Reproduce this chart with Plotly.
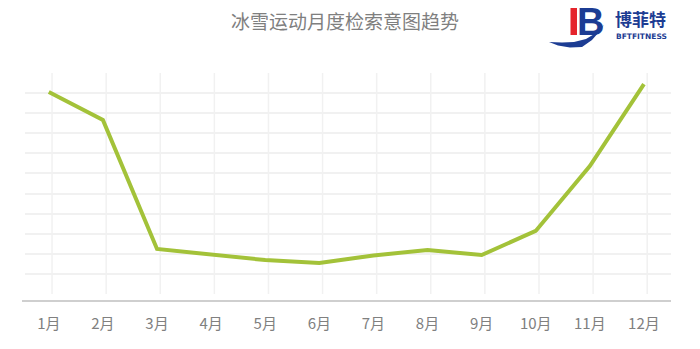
import plotly.graph_objects as go

# Monthly search-intent index for winter sports
months = ["1月", "2月", "3月", "4月", "5月", "6月", "7月", "8月", "9月", "10月", "11月", "12月"]
intent = [100.5, 86.6, 22.4, 19.7, 16.9, 15.4, 19.2, 21.9, 19.4, 31.4, 63.7, 104.5]
grid_values = [10, 20, 30, 40, 50, 60, 70, 80, 90, 100, 110]

W, H = 700, 349
L, R, T, B = 25, 29, 73, 55
PW, PH = W - L - R, H - T - B


def px(x):
    return (x - L) / PW


def py(y):
    return (H - B - y) / PH


def path(points):
    return "M " + " L ".join(f"{px(x):.5f},{py(y):.5f}" for x, y in points) + " Z"


fig = go.Figure()
fig.add_trace(go.Scatter(
    x=months, y=intent, mode="lines",
    line=dict(color="#a3c239", width=4),
    hoverinfo="skip", showlegend=False,
))

shapes = []
# vertical grid lines, slightly right of each category
for i in range(len(months)):
    shapes.append(dict(type="line", xref="x", yref="paper",
                       x0=i + 0.06, x1=i + 0.06, y0=0, y1=1,
                       line=dict(color="#f1f1f1", width=1.5), layer="below"))
# category axis base line
shapes.append(dict(type="line", xref="paper", yref="paper",
                   x0=px(22), x1=1, y0=py(301), y1=py(301),
                   line=dict(color="#bfbfbf", width=1.5)))

# logo: swoosh, red bar
shapes.append(dict(type="path", xref="paper", yref="paper",
                   path=path([(549, 42), (558, 45.5), (570, 47.5), (582, 47), (592, 40),
                              (599, 32), (604, 25), (596, 33), (586, 39), (574, 42),
                              (562, 42.5)]),
                   fillcolor="#1c3c93", line=dict(width=0)))
shapes.append(dict(type="rect", xref="paper", yref="paper",
                   x0=px(570.5), x1=px(577), y0=py(35), y1=py(8),
                   fillcolor="#e5242b", line=dict(width=0)))

annotations = [
    dict(text="冰雪运动月度检索意图趋势", x=px(345), y=py(21), xref="paper", yref="paper",
         showarrow=False, xanchor="center", yanchor="middle",
         font=dict(family="Noto Sans CJK SC", size=19, color="#7f7f7f")),
    dict(text="<b>B</b>", x=px(590), y=py(22), xref="paper", yref="paper",
         showarrow=False, xanchor="center", yanchor="middle",
         font=dict(family="Liberation Sans", size=38, color="#1c3c93")),
    dict(text="<b>博菲特</b>", x=px(640), y=py(19), xref="paper", yref="paper",
         showarrow=False, xanchor="center", yanchor="middle",
         font=dict(family="Noto Sans CJK SC", size=17, color="#1c3c93")),
    dict(text="<b>BFTFITNESS</b>", x=px(641), y=py(37), xref="paper", yref="paper",
         showarrow=False, xanchor="center", yanchor="middle",
         font=dict(family="DejaVu Sans", size=7.5, color="#1c3c93")),
]

fig.update_layout(
    width=W, height=H,
    margin=dict(l=L, r=R, t=T, b=B),
    paper_bgcolor="white", plot_bgcolor="white",
    shapes=shapes, annotations=annotations,
    xaxis=dict(
        type="category", range=[-0.44, 11.5],
        showgrid=False, zeroline=False, showline=False,
        ticks="outside", ticklen=16, tickcolor="rgba(0,0,0,0)",
        tickfont=dict(family="Noto Sans CJK SC", size=15, color="#808080"),
    ),
    yaxis=dict(
        range=[0, 110], tickvals=grid_values, showticklabels=False,
        showgrid=True, gridcolor="#f1f1f1", gridwidth=1.5,
        zeroline=False, showline=False, ticks="",
    ),
)

fig.write_html("out.html")
